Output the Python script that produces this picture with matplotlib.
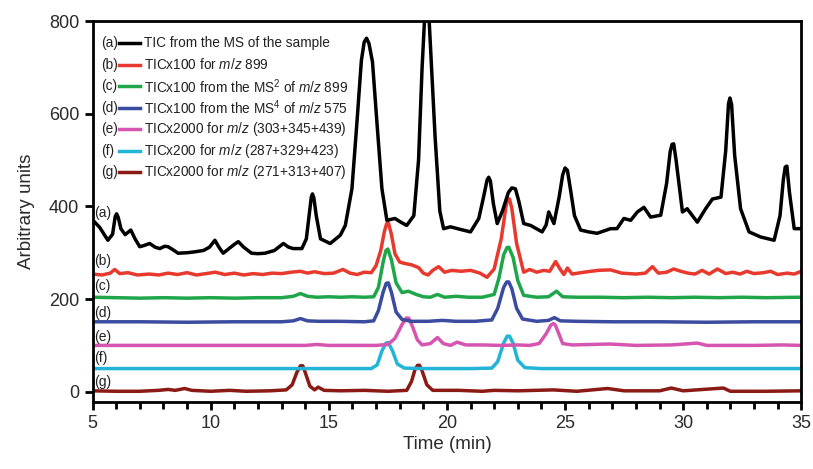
import matplotlib
matplotlib.use("Agg")
import matplotlib.pyplot as plt
from matplotlib.ticker import MultipleLocator

plt.rcParams['font.family'] = ['Liberation Sans', 'DejaVu Sans']
plt.rcParams['mathtext.fontset'] = 'custom'
plt.rcParams['mathtext.rm'] = 'Liberation Sans'
plt.rcParams['mathtext.it'] = 'Liberation Sans:italic'

# (time in min, arbitrary units)
trace_a = [(5.0, 371), (5.3, 355), (5.65, 327), (5.85, 340), (5.96, 378), (6.02, 384), (6.09, 376),
           (6.2, 352), (6.38, 339), (6.62, 349), (6.8, 330), (7.0, 313), (7.2, 316), (7.42, 320),
           (7.65, 312), (7.85, 309), (8.05, 314), (8.2, 313), (8.45, 305), (8.62, 299), (9.0, 300),
           (9.33, 302), (9.7, 305), (9.95, 312), (10.18, 327), (10.35, 312), (10.53, 299),
           (10.8, 310), (11.0, 318), (11.17, 324), (11.4, 312), (11.73, 299), (12.0, 298),
           (12.3, 299), (12.7, 305), (13.08, 320), (13.3, 312), (13.5, 309), (13.86, 309),
           (14.05, 330), (14.18, 385), (14.26, 420), (14.31, 427), (14.37, 418), (14.47, 380),
           (14.65, 330), (15.06, 320), (15.3, 330), (15.49, 338), (15.7, 359), (15.98, 438),
           (16.19, 580), (16.38, 715), (16.5, 755), (16.6, 763), (16.7, 752), (16.85, 712),
           (17.04, 580), (17.25, 438), (17.46, 370), (17.8, 374), (18.05, 366), (18.3, 359),
           (18.6, 380), (18.8, 500), (18.95, 700), (19.15, 900), (19.35, 700), (19.5, 550),
           (19.7, 390), (19.86, 352), (20.15, 356), (20.6, 350), (21.0, 345), (21.35, 374),
           (21.55, 420), (21.7, 457), (21.77, 463), (21.84, 455), (21.97, 405), (22.13, 363),
           (22.35, 390), (22.6, 430), (22.75, 440), (22.9, 438), (23.05, 410), (23.25, 363),
           (23.54, 359), (24.03, 345), (24.2, 360), (24.31, 388), (24.53, 363), (24.75, 420),
           (24.9, 468), (25.0, 483), (25.1, 478), (25.22, 440), (25.4, 380), (25.66, 349),
           (26.0, 345), (26.36, 342), (26.93, 352), (27.2, 352), (27.49, 374), (27.78, 370),
           (28.06, 388), (28.34, 398), (28.62, 377), (29.05, 381), (29.3, 450), (29.45, 518),
           (29.53, 534), (29.6, 535), (29.7, 500), (29.97, 388), (30.17, 395), (30.6, 366),
           (30.95, 395), (31.24, 416), (31.6, 420), (31.8, 520), (31.92, 622), (31.98, 634),
           (32.05, 620), (32.18, 510), (32.43, 395), (32.79, 345), (33.28, 334), (33.85, 327),
           (34.1, 380), (34.24, 458), (34.32, 485), (34.39, 487), (34.5, 430), (34.7, 352),
           (35.0, 352)]

trace_b = [(5.0, 254), (5.4, 252), (5.75, 256), (5.94, 264), (6.15, 255), (6.5, 257), (6.9, 252),
           (7.4, 254), (7.8, 252), (8.2, 256), (8.6, 253), (9.0, 257), (9.4, 252), (9.8, 255),
           (10.2, 258), (10.6, 253), (11.0, 256), (11.4, 252), (11.8, 255), (12.2, 253),
           (12.6, 256), (13.0, 255), (13.4, 258), (13.8, 260), (14.1, 256), (14.4, 259),
           (14.8, 255), (15.2, 256), (15.6, 264), (15.9, 256), (16.2, 253), (16.5, 258),
           (16.8, 257), (17.0, 272), (17.2, 305), (17.35, 345), (17.45, 363), (17.52, 365),
           (17.65, 340), (17.8, 298), (18.0, 280), (18.2, 277), (18.5, 274), (18.8, 268),
           (19.0, 256), (19.2, 252), (19.4, 262), (19.65, 270), (19.9, 258), (20.2, 262),
           (20.6, 260), (21.0, 262), (21.4, 256), (21.7, 247), (22.0, 265), (22.3, 330),
           (22.5, 400), (22.58, 417), (22.65, 416), (22.75, 395), (22.95, 320), (23.25, 258),
           (23.5, 264), (23.8, 258), (24.1, 262), (24.35, 260), (24.6, 281), (24.8, 264),
           (24.95, 253), (25.1, 267), (25.3, 254), (25.8, 258), (26.4, 262), (26.93, 263),
           (27.4, 256), (28.0, 254), (28.4, 256), (28.7, 270), (28.95, 256), (29.3, 258),
           (29.6, 265), (29.9, 260), (30.2, 256), (30.5, 254), (30.8, 262), (31.1, 254),
           (31.45, 265), (31.8, 255), (32.1, 258), (32.4, 254), (32.7, 260), (33.0, 255),
           (33.4, 257), (33.7, 260), (34.0, 253), (34.4, 256), (34.7, 254), (35.0, 260)]

trace_c = [(5.0, 204), (6.0, 203), (7.0, 202), (8.0, 203), (9.0, 202), (10.0, 203), (11.0, 202),
           (12.0, 203), (13.0, 203), (13.5, 206), (13.8, 212), (14.1, 206), (14.5, 204),
           (15.0, 205), (15.5, 204), (16.0, 205), (16.5, 204), (16.9, 205), (17.1, 225),
           (17.3, 280), (17.42, 305), (17.5, 308), (17.65, 285), (17.85, 235), (18.1, 214),
           (18.37, 217), (18.7, 210), (19.0, 205), (19.3, 204), (19.6, 210), (19.9, 204),
           (20.4, 206), (20.9, 204), (21.5, 204), (22.0, 210), (22.2, 245), (22.4, 295),
           (22.54, 311), (22.62, 312), (22.8, 290), (23.0, 240), (23.25, 208), (23.8, 204),
           (24.3, 205), (24.64, 217), (24.9, 205), (25.5, 204), (26.5, 204), (27.5, 203),
           (28.5, 204), (29.5, 203), (30.5, 204), (31.5, 203), (32.5, 204), (33.5, 203),
           (35.0, 204)]

trace_d = [(5.0, 151), (7.0, 151), (9.0, 150), (11.0, 151), (13.0, 151), (13.5, 153), (13.8, 158),
           (14.1, 153), (14.6, 152), (15.5, 152), (16.5, 151), (16.9, 153), (17.1, 175),
           (17.3, 215), (17.43, 234), (17.52, 235), (17.65, 215), (17.85, 172), (18.1, 156),
           (18.5, 152), (19.2, 152), (19.8, 154), (20.4, 152), (21.2, 152), (21.9, 155),
           (22.15, 180), (22.4, 225), (22.53, 237), (22.62, 237), (22.75, 222), (22.95, 180),
           (23.2, 157), (23.8, 152), (24.3, 154), (24.55, 160), (24.8, 153), (25.5, 152),
           (27.0, 151), (29.0, 151), (31.0, 150), (33.0, 151), (35.0, 151)]

trace_e = [(5.0, 100), (8.0, 100), (11.0, 100), (14.0, 100), (14.5, 102), (15.0, 100), (17.0, 100),
           (17.5, 102), (17.8, 115), (18.1, 145), (18.28, 159), (18.38, 159), (18.55, 140),
           (18.75, 112), (18.95, 101), (19.3, 104), (19.6, 117), (19.85, 104), (20.15, 100),
           (20.43, 107), (20.8, 101), (21.5, 101), (22.3, 100), (23.0, 101), (23.5, 100),
           (23.9, 104), (24.2, 125), (24.4, 144), (24.5, 147), (24.58, 145), (24.7, 130),
           (24.9, 104), (25.3, 101), (26.9, 103), (28.0, 100), (29.5, 101), (30.6, 105),
           (31.0, 100), (33.0, 100), (34.2, 101), (35.0, 100)]

trace_f = [(5.0, 50), (10.0, 50), (15.0, 50), (16.8, 50), (17.05, 58), (17.25, 88), (17.42, 105),
           (17.52, 106), (17.7, 88), (17.9, 60), (18.2, 51), (19.0, 50), (21.0, 50), (21.9, 51),
           (22.15, 65), (22.4, 105), (22.55, 120), (22.65, 120), (22.8, 105), (23.0, 68),
           (23.3, 52), (24.0, 50), (27.0, 50), (30.0, 50), (35.0, 50)]

trace_g = [(5.0, 2), (6.0, 1), (7.0, 1), (7.8, 3), (8.2, 5), (8.5, 3), (8.9, 7), (9.2, 3),
           (10.0, 1), (10.8, 3), (11.5, 1), (12.5, 2), (13.2, 4), (13.45, 15), (13.65, 42),
           (13.8, 56), (13.9, 56), (14.0, 42), (14.2, 12), (14.4, 4), (14.55, 10), (14.8, 3),
           (15.5, 2), (16.5, 3), (17.5, 1), (18.3, 3), (18.5, 22), (18.65, 48), (18.76, 57),
           (18.84, 57), (18.95, 45), (19.15, 15), (19.4, 3), (20.5, 3), (21.5, 1), (22.0, 3),
           (23.0, 2), (24.5, 4), (25.5, 1), (26.8, 7), (27.5, 2), (29.0, 2), (29.5, 8), (30.0, 2),
           (31.7, 8), (32.0, 1), (33.5, 1), (35.0, 2)]

traces = [trace_a, trace_b, trace_c, trace_d, trace_e, trace_f, trace_g]
tags = ["(a)", "(b)", "(c)", "(d)", "(e)", "(f)", "(g)"]
tag_y = [386, 283, 228, 171, 119, 72, 21]
legend_text = ["TIC from the MS of the sample",
               "TICx100 for $m/z$ 899",
               "TICx100 from the MS$^2$ of $m/z$ 899",
               "TICx100 from the MS$^4$ of $m/z$ 575",
               "TICx2000 for $m/z$ (303+345+439)",
               "TICx200 for $m/z$ (287+329+423)",
               "TICx2000 for $m/z$ (271+313+407)"]
colors = ["#000000", "#e8392e", "#1fa64a", "#3a4ba0", "#d655b0", "#23b5d8", "#8b1a14"]

fig = plt.figure(figsize=(8.13, 4.69), dpi=100)
ax = fig.add_axes([0.1138, 0.143, 0.8718, 0.812])

# draw bottom traces first so black stays on top like the original
for tr, c in reversed(list(zip(traces, colors))):
    t, v = zip(*tr)
    ax.plot(t, v, color=c, lw=2.5, solid_joinstyle='round')

for tag, y in zip(tags, tag_y):
    ax.text(5.08, y, tag, fontsize=10, va='center', ha='left', color='#222222')

# legend drawn by hand: "(x)" then a short line then the description
for i, (tag, txt, c) in enumerate(zip(tags, legend_text, colors)):
    y = 0.9415 - i * 0.0564
    ax.text(0.012, y, tag, transform=ax.transAxes, fontsize=9.8, va='center', color='#222222')
    ax.plot([0.0374, 0.067], [y, y], transform=ax.transAxes, color=c, lw=2.5)
    ax.text(0.0726, y, txt, transform=ax.transAxes, fontsize=9.8, va='center', color='#222222')

ax.set_xlim(5, 35)
ax.set_ylim(-22, 800)
ax.xaxis.set_major_locator(MultipleLocator(5))
ax.xaxis.set_minor_locator(MultipleLocator(1))
ax.yaxis.set_major_locator(MultipleLocator(200))
ax.tick_params(axis='both', which='major', direction='out', length=6, width=2,
               labelsize=13, colors='black', labelcolor='#2a2a2a')
ax.tick_params(axis='x', which='minor', direction='out', length=5, width=2)
for s in ax.spines.values():
    s.set_linewidth(2)

ax.set_xlabel("Time (min)", fontsize=13.5, color='#2a2a2a', labelpad=3)
ax.set_ylabel("Arbitrary units", fontsize=13.5, color='#2a2a2a', labelpad=10)

fig.savefig("out.png", dpi=100)
